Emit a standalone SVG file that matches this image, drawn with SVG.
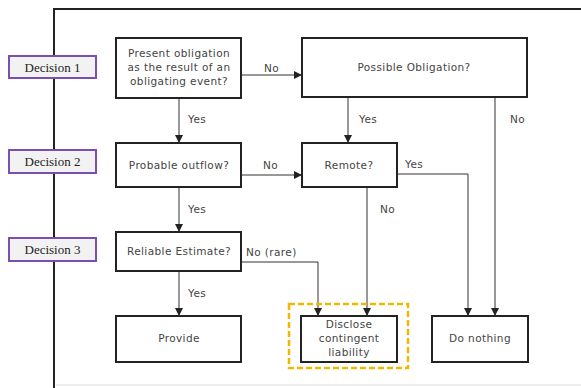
<svg xmlns="http://www.w3.org/2000/svg" width="581" height="388" viewBox="0 0 581 388">
<style>
.box{fill:#fff;stroke:#222;stroke-width:2}
.dec{fill:#f2f2f2;stroke:#7a4fb0;stroke-width:2}
.dt{font-family:"Liberation Serif",serif;font-size:13px;fill:#222;text-anchor:middle}
.t{font-family:"DejaVu Sans",Verdana,sans-serif;font-size:10.5px;letter-spacing:0.4px;fill:#444;text-anchor:middle}
.l{font-family:"DejaVu Sans",Verdana,sans-serif;font-size:10.5px;letter-spacing:0.4px;fill:#444}
.c{fill:none;stroke:#333;stroke-width:1}
</style>
<defs>
<marker id="a" viewBox="0 0 8 8" refX="8" refY="4" markerWidth="8" markerHeight="8" markerUnits="userSpaceOnUse" orient="auto">
<path d="M0,0L8,4L0,8z" fill="#222"/>
</marker>
</defs>
<rect width="581" height="388" fill="#fff"/>
<g id="frame">
<path d="M54,388V9H581" fill="none" stroke="#222" stroke-width="2"/>
<path d="M56,385H581" fill="none" stroke="#ddd" stroke-width="1"/>
</g>
<g id="decision1"><rect class="dec" x="9" y="56" width="87" height="22"/><text class="dt" x="52.5" y="72">Decision 1</text></g>
<g id="decision2"><rect class="dec" x="9" y="150" width="87" height="23"/><text class="dt" x="52.5" y="166">Decision 2</text></g>
<g id="decision3"><rect class="dec" x="9" y="238" width="87" height="23"/><text class="dt" x="52.5" y="254">Decision 3</text></g>
<g id="connectors">
<path class="c" d="M241,75H302" marker-end="url(#a)"/>
<path class="c" d="M179,98V143" marker-end="url(#a)"/>
<path class="c" d="M348,97V143" marker-end="url(#a)"/>
<path class="c" d="M495,97V316" marker-end="url(#a)"/>
<path class="c" d="M241,175H302" marker-end="url(#a)"/>
<path class="c" d="M397,174H468V316" marker-end="url(#a)"/>
<path class="c" d="M367,187V316" marker-end="url(#a)"/>
<path class="c" d="M179,187V232" marker-end="url(#a)"/>
<path class="c" d="M179,271V316" marker-end="url(#a)"/>
<path class="c" d="M241,262H318V316" marker-end="url(#a)"/>
<text class="l" x="264" y="72">No</text>
<text class="l" x="188" y="123">Yes</text>
<text class="l" x="359" y="123">Yes</text>
<text class="l" x="510" y="123">No</text>
<text class="l" x="263" y="169">No</text>
<text class="l" x="405" y="168">Yes</text>
<text class="l" x="380" y="213">No</text>
<text class="l" x="188" y="213">Yes</text>
<text class="l" x="188" y="297">Yes</text>
<text class="l" x="246" y="256">No (rare)</text>
</g>
<g id="n1"><rect class="box" x="116" y="38" width="125" height="60"/>
<text class="t" x="179" y="57">Present obligation</text>
<text class="t" x="179" y="71">as the result of an</text>
<text class="t" x="179" y="85">obligating event?</text></g>
<g id="n2"><rect class="box" x="302" y="38" width="225" height="59"/><text class="t" x="414" y="71">Possible Obligation?</text></g>
<g id="n3"><rect class="box" x="116" y="143" width="125" height="44"/><text class="t" x="179" y="169">Probable outflow?</text></g>
<g id="n4"><rect class="box" x="302" y="143" width="95" height="44"/><text class="t" x="349" y="169">Remote?</text></g>
<g id="n5"><rect class="box" x="116" y="232" width="125" height="39"/><text class="t" x="179" y="255">Reliable Estimate?</text></g>
<g id="n6"><rect class="box" x="116" y="316" width="125" height="46"/><text class="t" x="179" y="342">Provide</text></g>
<g id="n7"><rect x="289" y="304" width="119" height="64" fill="none" stroke="#f2b600" stroke-width="2.5" stroke-dasharray="6,3"/>
<rect class="box" x="301" y="316" width="96" height="46"/>
<text class="t" x="349" y="328">Disclose</text>
<text class="t" x="349" y="342">contingent</text>
<text class="t" x="349" y="356">liability</text></g>
<g id="n8"><rect class="box" x="432" y="316" width="96" height="46"/><text class="t" x="480" y="342">Do nothing</text></g>
</svg>
